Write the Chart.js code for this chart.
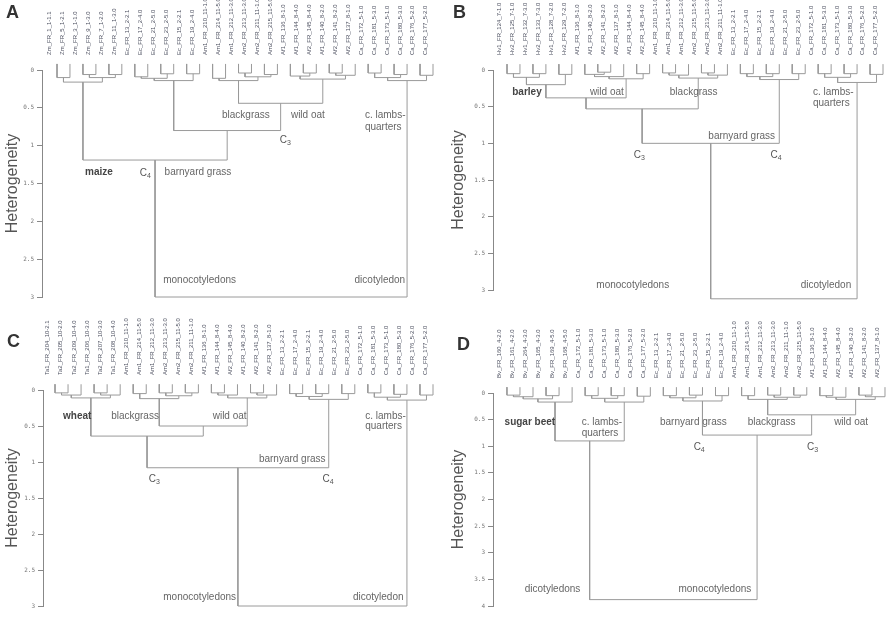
<!DOCTYPE html>
<html>
<head>
<meta charset="utf-8">
<script src="https://cdn.jsdelivr.net/npm/chart.js@4.4.1/dist/chart.umd.min.js"></script>
<style>
html, body { margin: 0; padding: 0; background: #fff; }
#wrap { position: relative; width: 892px; height: 624px; }
#wrap canvas { position: absolute; }
</style>
</head>
<body>
<div id="wrap">
<canvas id="chartA" width="446" height="312" style="left:0;top:0"></canvas>
<canvas id="chartB" width="446" height="312" style="left:446px;top:0"></canvas>
<canvas id="chartC" width="446" height="312" style="left:0;top:312px"></canvas>
<canvas id="chartD" width="446" height="312" style="left:446px;top:312px"></canvas>
</div>
<script>
// leaf names (left to right) and merges [childA, childB, height]
// child index < 30 is a leaf, otherwise 30 + merge row
const leavesA = ['Zm_FR_1_1-1.1','Zm_FR_5_1-2.1','Zm_FR_3_1-1.0','Zm_FR_9_1-3.0','Zm_FR_7_1-2.0','Zm_FR_11_1-3.0',
    'Ec_FR_13_2-2.1','Ec_FR_17_2-4.0','Ec_FR_21_2-5.0','Ec_FR_23_2-5.0','Ec_FR_15_2-2.1','Ec_FR_19_2-4.0',
    'Am1_FR_210_11-1.0','Am1_FR_214_11-5.0','Am1_FR_212_11-3.0','Am2_FR_213_11-3.0','Am2_FR_211_11-1.0','Am2_FR_215_11-5.0',
    'Af1_FR_136_8-1.0','Af1_FR_144_8-4.0','Af2_FR_145_8-4.0','Af1_FR_140_8-2.0','Af2_FR_141_8-2.0','Af2_FR_137_8-1.0',
    'Ca_FR_172_5-1.0','Ca_FR_181_5-3.0','Ca_FR_173_5-1.0','Ca_FR_180_5-3.0','Ca_FR_176_5-2.0','Ca_FR_177_5-2.0'];
const mergesA = [
    [0, 1, 0.10], [2, 3, 0.06], [4, 5, 0.06], [31, 32, 0.10], [30, 33, 0.16],
    [6, 7, 0.09], [8, 9, 0.05], [10, 11, 0.05], [35, 36, 0.11], [38, 37, 0.14],
    [12, 13, 0.11], [14, 15, 0.04], [16, 17, 0.06], [41, 42, 0.09], [40, 43, 0.14],
    [19, 20, 0.04], [18, 45, 0.08], [21, 22, 0.04], [47, 23, 0.07], [46, 48, 0.12],
    [44, 49, 0.44], [39, 50, 0.80], [34, 51, 1.19],
    [24, 25, 0.04], [26, 27, 0.06], [53, 54, 0.10], [28, 29, 0.07], [55, 56, 0.14],
    [52, 57, 3.00]
];

const leavesB = ['Hv1_FR_124_7-1.0','Hv2_FR_125_7-1.0','Hv1_FR_132_7-3.0','Hv2_FR_133_7-3.0','Hv1_FR_128_7-2.0','Hv2_FR_129_7-2.0',
    'Af1_FR_136_8-1.0','Af1_FR_140_8-2.0','Af2_FR_141_8-2.0','Af2_FR_137_8-1.0','Af1_FR_144_8-4.0','Af2_FR_145_8-4.0',
    'Am1_FR_210_11-1.0','Am1_FR_214_11-5.0','Am1_FR_212_11-3.0','Am2_FR_215_11-5.0','Am2_FR_213_11-3.0','Am2_FR_211_11-1.0',
    'Ec_FR_13_2-2.1','Ec_FR_17_2-4.0','Ec_FR_15_2-2.1','Ec_FR_19_2-4.0','Ec_FR_21_2-5.0','Ec_FR_23_2-5.0',
    'Ca_FR_172_5-1.0','Ca_FR_181_5-3.0','Ca_FR_173_5-1.0','Ca_FR_180_5-3.0','Ca_FR_176_5-2.0','Ca_FR_177_5-2.0'];
const mergesB = [
    [0, 1, 0.05], [2, 3, 0.05], [30, 31, 0.10], [4, 5, 0.06], [32, 33, 0.20],
    [7, 8, 0.03], [6, 35, 0.06], [36, 9, 0.09], [10, 11, 0.05], [37, 38, 0.12],
    [34, 39, 0.38],
    [12, 13, 0.04], [41, 14, 0.07], [15, 16, 0.04], [43, 17, 0.07], [42, 44, 0.11],
    [40, 45, 0.53],
    [18, 19, 0.05], [20, 21, 0.05], [47, 48, 0.09], [22, 23, 0.05], [49, 50, 0.13],
    [46, 51, 1.00],
    [24, 25, 0.05], [26, 27, 0.05], [53, 54, 0.10], [28, 29, 0.06], [55, 56, 0.17],
    [52, 57, 3.12]
];

const leavesC = ['Ta1_FR_204_10-2.1','Ta2_FR_205_10-2.0','Ta2_FR_209_10-4.0','Ta1_FR_206_10-3.0','Ta2_FR_207_10-3.0','Ta1_FR_208_10-4.0',
    'Am1_FR_210_11-1.0','Am1_FR_214_11-5.0','Am1_FR_212_11-3.0','Am2_FR_213_11-3.0','Am2_FR_215_11-5.0','Am2_FR_211_11-1.0',
    'Af1_FR_136_8-1.0','Af1_FR_144_8-4.0','Af2_FR_145_8-4.0','Af1_FR_140_8-2.0','Af2_FR_141_8-2.0','Af2_FR_137_8-1.0',
    'Ec_FR_13_2-2.1','Ec_FR_17_2-4.0','Ec_FR_15_2-2.1','Ec_FR_19_2-4.0','Ec_FR_21_2-5.0','Ec_FR_23_2-5.0',
    'Ca_FR_172_5-1.0','Ca_FR_181_5-3.0','Ca_FR_173_5-1.0','Ca_FR_180_5-3.0','Ca_FR_176_5-2.0','Ca_FR_177_5-2.0'];
const mergesC = [
    [0, 1, 0.04], [30, 2, 0.07], [3, 4, 0.04], [32, 5, 0.07], [31, 33, 0.11],
    [6, 7, 0.05], [8, 9, 0.04], [10, 11, 0.04], [36, 37, 0.08], [35, 38, 0.12],
    [12, 13, 0.04], [40, 14, 0.07], [15, 16, 0.04], [42, 17, 0.07], [41, 43, 0.11],
    [39, 44, 0.50], [34, 45, 0.64],
    [18, 19, 0.05], [20, 21, 0.05], [47, 48, 0.09], [22, 23, 0.05], [49, 50, 0.13],
    [46, 51, 1.08],
    [24, 25, 0.04], [26, 27, 0.06], [53, 54, 0.10], [28, 29, 0.07], [55, 56, 0.14],
    [52, 57, 3.00]
];

const leavesD = ['Bv_FR_160_4-2.0','Bv_FR_161_4-2.0','Bv_FR_264_4-3.0','Bv_FR_165_4-3.0','Bv_FR_169_4-5.0','Bv_FR_168_4-5.0',
    'Ca_FR_172_5-1.0','Ca_FR_181_5-3.0','Ca_FR_173_5-1.0','Ca_FR_180_5-3.0','Ca_FR_176_5-2.0','Ca_FR_177_5-2.0',
    'Ec_FR_13_2-2.1','Ec_FR_17_2-4.0','Ec_FR_21_2-5.0','Ec_FR_23_2-5.0','Ec_FR_15_2-2.1','Ec_FR_19_2-4.0',
    'Am1_FR_210_11-1.0','Am1_FR_214_11-5.0','Am1_FR_212_11-3.0','Am2_FR_213_11-3.0','Am2_FR_211_11-1.0','Am2_FR_215_11-5.0',
    'Af1_FR_136_8-1.0','Af1_FR_144_8-4.0','Af2_FR_145_8-4.0','Af1_FR_140_8-2.0','Af2_FR_141_8-2.0','Af2_FR_137_8-1.0'];
const mergesD = [
    [0, 1, 0.04], [30, 2, 0.07], [3, 4, 0.05], [31, 32, 0.11], [33, 5, 0.17],
    [6, 7, 0.05], [8, 9, 0.05], [35, 36, 0.10], [10, 11, 0.06], [37, 38, 0.17],
    [34, 39, 0.90],
    [12, 13, 0.05], [14, 15, 0.04], [41, 42, 0.09], [16, 17, 0.05], [43, 44, 0.15],
    [18, 19, 0.05], [20, 21, 0.04], [22, 23, 0.04], [47, 48, 0.08], [46, 49, 0.12],
    [24, 25, 0.05], [51, 26, 0.08], [27, 28, 0.04], [53, 29, 0.07], [52, 54, 0.12],
    [50, 55, 0.41], [45, 56, 0.79],
    [40, 57, 3.88]
];

// text notes: [text, leaf position, height, style]
const notesA = [
    ['maize', 3.24, 1.35, 'bold'], ['C|4', 6.86, 1.36, 'sub'], ['barnyard grass', 10.87, 1.35],
    ['blackgrass', 14.57, 0.60], ['wild oat', 19.35, 0.60], ['C|3', 17.66, 0.93, 'sub'],
    ['c. lambs-', 23.75, 0.60, 'left'], ['quarters', 23.75, 0.76, 'left'],
    ['monocotyledons', 11.0, 2.78], ['dicotyledon', 24.9, 2.78]
];
const notesB = [
    ['barley', 1.54, 0.30, 'bold'], ['wild oat', 7.7, 0.30], ['blackgrass', 14.4, 0.30],
    ['c. lambs-', 23.6, 0.30, 'left'], ['quarters', 23.6, 0.46, 'left'],
    ['barnyard grass', 18.1, 0.90], ['C|3', 10.25, 1.16, 'sub'], ['C|4', 20.8, 1.16, 'sub'],
    ['monocotyledons', 9.7, 2.93], ['dicotyledon', 24.6, 2.93]
];
const notesC = [
    ['wheat', 1.7, 0.36, 'bold'], ['blackgrass', 6.14, 0.36], ['wild oat', 13.4, 0.36],
    ['c. lambs-', 23.8, 0.36, 'left'], ['quarters', 23.8, 0.51, 'left'],
    ['barnyard grass', 18.2, 0.96], ['C|3', 7.67, 1.24, 'sub'], ['C|4', 21.0, 1.24, 'sub'],
    ['monocotyledons', 11.1, 2.88], ['dicotyledon', 24.8, 2.88]
];
const notesD = [
    ['sugar beet', 1.76, 0.54, 'bold'], ['c. lambs-', 5.73, 0.54, 'left'], ['quarters', 5.73, 0.75, 'left'],
    ['barnyard grass', 14.3, 0.54], ['blackgrass', 20.3, 0.54], ['wild oat', 26.4, 0.54],
    ['C|4', 14.8, 1.01, 'sub'], ['C|3', 23.5, 1.01, 'sub'],
    ['dicotyledons', 3.5, 3.68], ['monocotyledons', 15.95, 3.68]
];

const SANS = '"Liberation Sans", Arial, sans-serif';
const LINE = '#9a9a9a';

// turn merges into elbow segments, one dataset per merge
function buildSegments(leaves, merges, leafTop) {
    const pos = leaves.map((_, i) => ({ x: i, h: leafTop }));
    const sets = [];
    merges.forEach(([a, b, h]) => {
        const p = pos[a], q = pos[b];
        sets.push({
            data: [{ x: p.x, y: p.h }, { x: p.x, y: h }, { x: q.x, y: h }, { x: q.x, y: q.h }],
            showLine: true,
            borderColor: LINE,
            borderWidth: 1,
            pointRadius: 0,
            tension: 0,
            clip: false
        });
        pos.push({ x: (p.x + q.x) / 2, h: h });
    });
    return sets;
}

const notePlugin = {
    id: 'notes',
    afterDatasetsDraw(chart, args, opts) {
        const { ctx } = chart;
        const x = chart.scales.x, y = chart.scales.y;
        ctx.save();
        ctx.textBaseline = 'middle';
        opts.notes.forEach(([text, lx, ly, style]) => {
            const px = x.getPixelForValue(lx), py = y.getPixelForValue(ly);
            if (style === 'sub') {
                const [main, sub] = text.split('|');
                ctx.fillStyle = '#555';
                ctx.font = '10px ' + SANS;
                ctx.textAlign = 'right';
                ctx.fillText(main, px + 1, py);
                ctx.font = '7px ' + SANS;
                ctx.textAlign = 'left';
                ctx.fillText(sub, px + 1, py + 3);
                return;
            }
            ctx.font = (style === 'bold' ? 'bold ' : '') + '10px ' + SANS;
            ctx.fillStyle = style === 'bold' ? '#444' : '#666';
            ctx.textAlign = style === 'left' ? 'left' : 'center';
            ctx.fillText(text, px, py);
        });
        ctx.font = 'bold 18px ' + SANS;
        ctx.fillStyle = '#333';
        ctx.textAlign = 'left';
        ctx.fillText(opts.letter, opts.letterPos[0], opts.letterPos[1]);
        ctx.restore();
    }
};

// panel: canvas id, data, and where the plot sits inside the 446x312 panel
function drawPanel(id, letter, letterPos, leaves, merges, notes, yMax, frame) {
    const { left, top, bottom, first, last, leafTop } = frame;
    const right = 444;
    const w = right - left;
    const range = (leaves.length - 1) * w / (last - first);
    const xMin = -(first - left) * range / w;

    new Chart(document.getElementById(id), {
        type: 'scatter',
        data: { datasets: buildSegments(leaves, merges, leafTop) },
        plugins: [notePlugin],
        options: {
            responsive: false,
            animation: false,
            layout: { padding: { left: 0, top: 0, right: 446 - right, bottom: 312 - bottom } },
            plugins: {
                legend: { display: false },
                tooltip: { enabled: false },
                notes: { notes: notes, letter: letter, letterPos: letterPos }
            },
            scales: {
                x: {
                    type: 'linear',
                    position: 'top',
                    bounds: 'data',
                    min: xMin,
                    max: xMin + range,
                    grid: { display: false },
                    border: { display: false },
                    afterBuildTicks: s => { s.ticks = leaves.map((_, i) => ({ value: i })); },
                    afterFit: s => { s.height = top; },
                    ticks: {
                        autoSkip: false,
                        minRotation: 90,
                        maxRotation: 90,
                        padding: 7,
                        color: '#4d5060',
                        font: { size: 6, family: SANS },
                        callback: v => leaves[v]
                    }
                },
                y: {
                    type: 'linear',
                    reverse: true,
                    bounds: 'data',
                    min: 0,
                    max: yMax,
                    afterFit: s => { s.width = left; },
                    grid: { drawOnChartArea: false, tickLength: 5, color: '#888' },
                    border: { color: '#888' },
                    ticks: {
                        stepSize: 0.5,
                        padding: 3,
                        color: '#777',
                        font: { size: 6, family: '"DejaVu Sans Mono", monospace' },
                        callback: v => String(v)
                    },
                    title: {
                        display: true,
                        text: 'Heterogeneity',
                        color: '#555',
                        font: { size: 16, family: SANS },
                        padding: { top: 3, bottom: 0 }
                    }
                }
            }
        }
    });
}

drawPanel('chartA', 'A', [6, 13], leavesA, mergesA, notesA, 3,
    { left: 42, top: 70, bottom: 297, first: 57, last: 433, leafTop: -0.08 });
drawPanel('chartB', 'B', [7, 13], leavesB, mergesB, notesB, 3,
    { left: 47, top: 70, bottom: 290, first: 61, last: 437, leafTop: -0.08 });
drawPanel('chartC', 'C', [7, 30], leavesC, mergesC, notesC, 3,
    { left: 43, top: 78, bottom: 294, first: 55, last: 433, leafTop: -0.08 });
drawPanel('chartD', 'D', [11, 33], leavesD, mergesD, notesD, 4,
    { left: 47, top: 81, bottom: 294, first: 61, last: 441, leafTop: -0.11 });
</script>
</body>
</html>
